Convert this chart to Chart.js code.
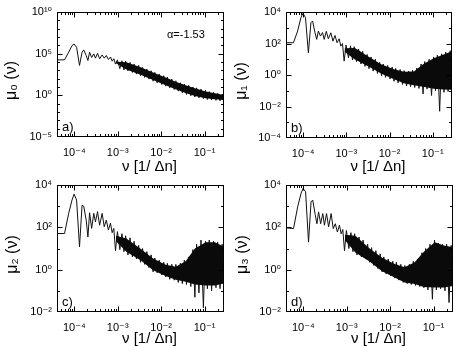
<!DOCTYPE html>
<html><head><meta charset="utf-8">
<script src="https://cdn.jsdelivr.net/npm/chart.js@4/dist/chart.umd.min.js"></script>
<style>
html,body{margin:0;padding:0;background:#fff;}
#wrap{position:relative;width:457px;height:346px;overflow:hidden;}
canvas{position:absolute;left:0;top:0;}
</style></head><body>
<div id="wrap">
<canvas id="ca" width="457" height="346"></canvas>
<canvas id="cb" width="457" height="346"></canvas>
<canvas id="cc" width="457" height="346"></canvas>
<canvas id="cd" width="457" height="346"></canvas>
</div>
<script>
// ---- data ----
const nuLow = [4.0e-5, 5.96e-5, 7.43e-5, 8.87e-5, 9.9e-5, 1.13e-4, 1.32e-4, 1.51e-4, 1.65e-4, 1.88e-4, 2.06e-4, 2.25e-4, 2.51e-4, 2.81e-4, 3.07e-4, 3.43e-4, 3.83e-4, 4.38e-4, 4.89e-4, 5.46e-4, 6.10e-4, 6.81e-4, 7.45e-4, 8.13e-4, 8.89e-4];
const nuNoise = [9.84e-4, 1.12e-3, 1.25e-3, 1.39e-3, 1.52e-3, 1.72e-3, 1.92e-3, 2.18e-3, 2.38e-3, 2.70e-3, 3.03e-3, 3.35e-3, 3.73e-3, 4.18e-3, 4.69e-3, 5.26e-3, 5.89e-3,
  6.53e-3, 7.14e-3, 8.09e-3, 9.02e-3, 1.03e-2, 1.15e-2, 1.27e-2, 1.39e-2, 1.58e-2, 1.76e-2, 2.00e-2, 2.18e-2, 2.48e-2, 2.77e-2, 3.07e-2, 3.42e-2, 3.83e-2, 4.30e-2, 4.82e-2, 5.39e-2,
  5.98e-2, 6.55e-2, 7.41e-2, 8.26e-2, 9.40e-2, 0.105, 0.116, 0.128, 0.145, 0.161, 0.183, 0.200, 0.227, 0.254, 0.281];
const bandNu = [9.1e-4, 1.58e-3, 3.36e-3, 6.53e-3, 1.27e-2, 2.16e-2, 3.67e-2, 5.98e-2, 0.106, 0.173, 0.282];

const mu0Low = [1.8e4, 1.8e4, 1.5e5, 9.1e5, 1.45e6, 5.9e5, 3.9e3, 1.5e5, 2.8e5, 6.0e4, 1.5e4, 1.5e5, 3.5e4, 9.5e4, 2.9e4, 1.1e5, 2.4e4, 7.1e4, 2.9e4, 6.0e4, 2.0e4, 4.0e4, 1.26e4, 2.5e4, 5.6e3];
const mu0Noise = [1.8e4, 1.6e3, 1.4e4, 1.1e3, 1.26e4, 890, 8.9e3, 560, 5.6e3, 355, 4.0e3, 224, 2.24e3, 141, 1.41e3, 89, 890, 50, 560, 32, 355, 20, 224, 12.6, 158, 7.9, 89, 5.0, 56, 3.2, 32, 2.0, 22, 1.26, 16, 0.89, 10, 0.63, 7.9, 0.5, 5.6, 0.4, 4.0, 0.32, 2.8, 0.28, 2.24, 0.25, 1.78, 0.22, 1.41, 0.22];
const mu0BandHi = [1.1e4, 9.5e3, 2.3e3, 550, 141, 44, 16, 7.1, 2.9, 1.78, 1.07];
const mu0BandLo = [7.0e3, 1.3e3, 290, 68, 16, 5.2, 1.86, 0.83, 0.46, 0.34, 0.27];

const mu1Low = [112, 112, 617, 4.4e3, 8.3e3, 4.4e3, 25.7, 2.1e3, 2.7e3, 479, 182, 617, 295, 500, 182, 589, 200, 479, 141, 324, 112, 200, 68, 100, 7.6];
const mu1Noise = [79, 12.6, 71, 8.9, 63, 7.1, 45, 5.0, 32, 3.55, 20, 2.5, 14, 1.78, 10, 1.26, 6.3, 0.89, 5.0, 0.71, 4.0, 0.56, 3.2, 0.4, 2.6, 0.32, 2.24, 0.25, 1.9, 0.2, 1.78, 0.18, 2.0, 0.16, 2.8, 0.14, 5.0, 0.063, 7.1, 0.126, 10, 0.05, 14, 0.1, 18, 0.005, 22, 0.08, 28, 0.09, 35, 0.1];
const mu1BandHi = [50, 52, 14, 4.6, 2.3, 1.58, 1.66, 4.8, 11.5, 19, 33];
const mu1BandLo = [30, 9.5, 3.3, 1.2, 0.54, 0.3, 0.22, 0.18, 0.135, 0.12, 0.117];

const mu2Low = [51, 51, 457, 1950, 3.7e3, 1950, 12, 1.1e3, 1.0e3, 219, 35, 490, 89, 457, 182, 550, 126, 457, 107, 219, 74, 158, 56, 89, 7.9];
const mu2Noise = [63, 8.9, 50, 7.1, 40, 5.0, 32, 4.0, 22, 3.2, 14, 2.24, 10, 1.78, 7.1, 1.26, 5.0, 0.79, 3.55, 0.71, 2.8, 0.56, 2.24, 0.45, 2.0, 0.35, 1.78, 0.32, 1.78, 0.25, 2.0, 0.22, 2.8, 0.2, 4.0, 0.16, 8.9, 0.05, 16, 0.08, 25, 0.016, 22, 0.126, 25, 0.1, 22, 0.14, 20, 0.126, 16, 0.16];
const mu2BandHi = [40, 30, 9.8, 3.4, 1.7, 1.38, 2.5, 10, 20, 20, 12];
const mu2BandLo = [22, 7.1, 2.75, 0.95, 0.5, 0.33, 0.27, 0.2, 0.18, 0.18, 0.22];

const mu3Low = [95, 87, 933, 4.0e3, 6.9e3, 4.8e3, 20, 1.6e3, 1.95e3, 398, 148, 537, 148, 447, 126, 447, 105, 447, 87, 148, 60, 126, 50, 79, 7.9];
const mu3Noise = [71, 10, 56, 7.1, 50, 5.0, 35, 4.0, 25, 3.2, 16, 2.24, 11, 1.58, 7.9, 1.12, 5.6, 0.79, 4.0, 0.63, 3.2, 0.5, 2.5, 0.4, 2.24, 0.32, 1.78, 0.25, 1.58, 0.22, 1.78, 0.2, 2.5, 0.18, 3.2, 0.16, 6.3, 0.14, 10, 0.11, 16, 0.04, 25, 0.11, 18, 0.126, 16, 0.1, 16, 0.028, 14, 0.14];
const mu3BandHi = [45, 40, 10, 3.7, 1.86, 1.29, 2.24, 7.1, 20, 14, 11.5];
const mu3BandLo = [25, 6.5, 2.4, 0.85, 0.43, 0.25, 0.21, 0.15, 0.145, 0.145, 0.17];

const xTicks = [1e-4, 1e-3, 1e-2, 1e-1];
const xTickLabels = ['10⁻⁴', '10⁻³', '10⁻²', '10⁻¹'];
const yTicksA = [1e-5, 1, 1e5, 1e10];
const yTickLabelsA = ['10⁻⁵', '10⁰', '10⁵', '10¹⁰'];
const yTicksB = [1e-4, 1e-2, 1, 1e2, 1e4];
const yTickLabelsB = ['10⁻⁴', '10⁻²', '10⁰', '10²', '10⁴'];
const yTicksCD = [1e-2, 1, 1e2, 1e4];
const yTickLabelsCD = ['10⁻²', '10⁰', '10²', '10⁴'];

const xTitle = 'ν [1/ Δn]';
const yTitles = ['μ₀ (ν)', 'μ₁ (ν)', 'μ₂ (ν)', 'μ₃ (ν)'];
const panelTags = ['a)', 'b)', 'c)', 'd)'];
const alphaText = 'α=-1.53';

// ---- drawing ----
const FONT = "'Liberation Sans', 'DejaVu Sans', Arial, sans-serif";
const W = 457, H = 346;
const YW = 53, XH = 30;
const X_MIN = 4e-5, X_MAX = 0.28;

function pts(xs, ys) { return xs.map((x, i) => ({x: x, y: ys[i]})); }

function framePlugin(p) {
  return {
    id: 'frame',
    afterDraw(chart) {
      const ctx = chart.ctx, a = chart.chartArea;
      const xs = chart.scales.x, ys = chart.scales.y;
      const yMajor = p.yTicks;
      ctx.save();
      ctx.strokeStyle = '#000';
      ctx.lineWidth = 1;
      const L = Math.round(a.left) + 0.5, T = Math.round(a.top) + 0.5;
      const R = Math.round(a.right) - 0.5, B = Math.round(a.bottom) - 0.5;
      ctx.strokeRect(L, T, R - L, B - T);
      ctx.beginPath();
      for (let e = -5; e <= 0; e++) {
        for (let m = 1; m <= 9; m++) {
          const v = m * Math.pow(10, e);
          if (v <= xs.min * 1.0001 || v >= xs.max * 0.9999) continue;
          const px = Math.round(xs.getPixelForValue(v)) + 0.5;
          const len = m === 1 ? 5 : 2.5;
          ctx.moveTo(px, B); ctx.lineTo(px, B - len);
          ctx.moveTo(px, T); ctx.lineTo(px, T + len);
        }
      }
      const e0 = Math.round(Math.log10(ys.min)), e1 = Math.round(Math.log10(ys.max));
      for (let e = e0 + 1; e < e1; e++) {
        const v = Math.pow(10, e);
        const py = Math.round(ys.getPixelForValue(v)) + 0.5;
        const major = yMajor.some(t => Math.abs(Math.log10(t) - e) < 1e-6);
        const len = major ? 5 : 2.5;
        ctx.moveTo(L, py); ctx.lineTo(L + len, py);
        ctx.moveTo(R, py); ctx.lineTo(R - len, py);
      }
      ctx.stroke();
      ctx.fillStyle = '#000';
      // axis titles
      ctx.textAlign = 'center';
      ctx.textBaseline = 'middle';
      ctx.font = '15px ' + FONT;
      ctx.fillText(xTitle, (a.left + a.right) / 2 + 9, p.xTitleY);
      ctx.save();
      ctx.translate(p.yTitleX, (a.top + a.bottom) / 2 + 6);
      ctx.rotate(-Math.PI / 2);
      ctx.font = '16px ' + FONT;
      ctx.fillText(p.yTitle, 0, 0);
      ctx.restore();
      // panel tag and annotation
      ctx.textBaseline = 'alphabetic';
      ctx.textAlign = 'left';
      ctx.font = '13px ' + FONT;
      ctx.fillText(p.tag, a.left + 5, a.bottom - 6);
      if (p.extra) {
        ctx.font = '11px ' + FONT;
        ctx.fillText(p.extra, a.right - 57, a.top + 26);
      }
      ctx.restore();
    }
  };
}

function makePanel(id, rect, low, noise, bandHi, bandLo, yTicks, yLabels, p) {
  const line = pts(nuLow, low).concat(pts(nuNoise, noise));
  p.yTicks = yTicks;
  const cfg = {
    type: 'line',
    data: {
      datasets: [
        {data: pts(bandNu, bandHi), fill: '+1', backgroundColor: '#0a0a0a', borderColor: 'rgba(0,0,0,0)', borderWidth: 0, pointRadius: 0, tension: 0},
        {data: pts(bandNu, bandLo), fill: false, borderColor: 'rgba(0,0,0,0)', borderWidth: 0, pointRadius: 0, tension: 0},
        {data: line, fill: false, borderColor: '#111', borderWidth: 1, pointRadius: 0, tension: 0}
      ]
    },
    options: {
      responsive: false,
      animation: false,
      devicePixelRatio: 1,
      layout: {padding: {left: rect[0] - YW, top: rect[1], right: W - rect[2], bottom: H - rect[3] - XH}},
      plugins: {legend: {display: false}, tooltip: {enabled: false}},
      scales: {
        x: {
          type: 'logarithmic', min: X_MIN, max: X_MAX,
          grid: {display: false, drawTicks: false},
          border: {display: false},
          afterBuildTicks: s => { s.ticks = xTicks.map(v => ({value: v})); },
          afterFit: s => { s.height = XH; },
          ticks: {autoSkip: false, maxRotation: 0, padding: 9, color: '#000',
            font: {family: FONT, size: 11},
            callback: v => { const i = xTicks.findIndex(t => Math.abs(t - v) / t < 1e-6); return i >= 0 ? xTickLabels[i] : ''; }},
          title: {display: false}
        },
        y: {
          type: 'logarithmic', min: yTicks[0], max: yTicks[yTicks.length - 1],
          grid: {display: false, drawTicks: false},
          border: {display: false},
          afterBuildTicks: s => { s.ticks = yTicks.map(v => ({value: v})); },
          afterFit: s => { s.width = YW; },
          ticks: {autoSkip: false, padding: 5, color: '#000',
            font: {family: FONT, size: 11},
            callback: v => { const i = yTicks.findIndex(t => Math.abs(t - v) / t < 1e-6); return i >= 0 ? yLabels[i] : ''; }},
          title: {display: false}
        }
      }
    },
    plugins: [framePlugin(p)]
  };
  return new Chart(document.getElementById(id), cfg);
}

makePanel('ca', [57, 12, 224, 137], mu0Low, mu0Noise, mu0BandHi, mu0BandLo, yTicksA, yTickLabelsA,
  {yTitle: yTitles[0], tag: panelTags[0], extra: alphaText, xTitleY: 167, yTitleX: 12});
makePanel('cb', [286, 12, 452, 138], mu1Low, mu1Noise, mu1BandHi, mu1BandLo, yTicksB, yTickLabelsB,
  {yTitle: yTitles[1], tag: panelTags[1], extra: null, xTitleY: 167, yTitleX: 242});
makePanel('cc', [57, 185, 224, 312], mu2Low, mu2Noise, mu2BandHi, mu2BandLo, yTicksCD, yTickLabelsCD,
  {yTitle: yTitles[2], tag: panelTags[2], extra: null, xTitleY: 339, yTitleX: 13});
makePanel('cd', [286, 185, 453, 312], mu3Low, mu3Noise, mu3BandHi, mu3BandLo, yTicksCD, yTickLabelsCD,
  {yTitle: yTitles[3], tag: panelTags[3], extra: null, xTitleY: 339, yTitleX: 243});
</script>
</body></html>
